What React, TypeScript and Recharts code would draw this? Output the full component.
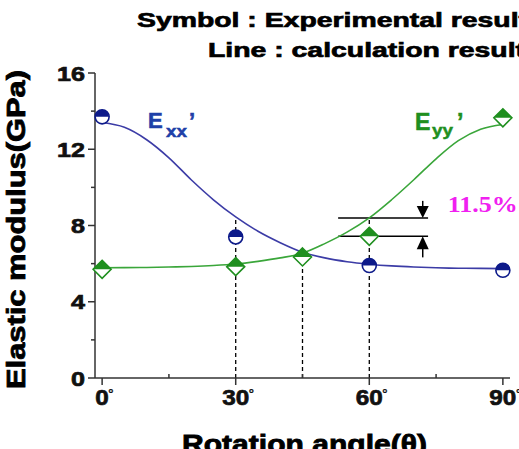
import { ComposedChart, Line, Scatter, XAxis, YAxis, ReferenceLine, ReferenceDot } from 'recharts';

// calculated curves, sampled every 5 degrees
const curveAngles = [0, 5, 10, 15, 20, 25, 30, 35, 40, 45, 50, 55, 60, 65, 70, 75, 80, 85, 90];
const exxCalc = [13.4, 13.15, 12.5, 11.55, 10.4, 9.35, 8.45, 7.7, 7.1, 6.6, 6.3, 6.1, 5.97, 5.88, 5.82, 5.78, 5.76, 5.75, 5.74];
const eyyCalc = [5.78, 5.79, 5.8, 5.82, 5.85, 5.9, 5.98, 6.12, 6.3, 6.55, 7.05, 7.65, 8.4, 9.35, 10.4, 11.5, 12.45, 13.05, 13.3];

// measured points
const exxExpAngles = [0, 30, 60, 90];
const exxExp = [13.7, 7.4, 5.9, 5.65];
const eyyExpAngles = [0, 30, 45, 60, 90];
const eyyExp = [5.7, 5.84, 6.35, 7.43, 13.65];

const xTicks = [0, 15, 30, 45, 60, 75, 90];
const xMajor = [0, 30, 60, 90];
const yTicks = [0, 2, 4, 6, 8, 10, 12, 14, 16];
const yMajor = [0, 4, 8, 12, 16];

// vertical guides drop from the curves at these angles
const dropAngles = [30, 45, 60];

// gap between calculated and measured Eyy at 60 degrees
const gapAngle = 60;
const gapSpan = [53, 73.2];
const arrowAngle = 72;

const BLUE = '#0d1a8a';
const BLUE_LINE = '#3c3ca6';
const GREEN = '#1f8f1f';
const GREEN_LINE = '#3aa63a';
const AXIS = '#333';
const FONT = '"Liberation Sans", Arial, sans-serif';

const exxLine = curveAngles.map((a, i) => ({ angle: a, value: exxCalc[i] }));
const eyyLine = curveAngles.map((a, i) => ({ angle: a, value: eyyCalc[i] }));
const exxPts = exxExpAngles.map((a, i) => ({ angle: a, value: exxExp[i] }));
const eyyPts = eyyExpAngles.map((a, i) => ({ angle: a, value: eyyExp[i] }));

const calcAt = (arr: number[], angle: number) => arr[curveAngles.indexOf(angle)];
const dropTops = [calcAt(exxCalc, 30), calcAt(eyyCalc, 45), calcAt(eyyCalc, 60)];
const gapUpper = calcAt(eyyCalc, gapAngle);
const gapLower = eyyExp[eyyExpAngles.indexOf(gapAngle)];
const gapLabel = (((gapUpper - gapLower) / gapUpper) * 100).toFixed(1) + '%';

// heavy bold text: fill plus a thin stroke of the same colour
const heavy = (color: string, w = 0.7) => ({
  fontFamily: FONT,
  fontWeight: 'bold' as const,
  fill: color,
  stroke: color,
  strokeWidth: w,
});

const HalfCircle = (props: any) => {
  const { cx, cy } = props;
  const r = 7;
  return (
    <g>
      <circle cx={cx} cy={cy} r={r} fill="#fff" stroke={BLUE} strokeWidth={1.6} />
      <path d={`M${cx - r},${cy} A${r},${r} 0 0 1 ${cx + r},${cy} Z`} fill={BLUE} />
    </g>
  );
};

const HalfDiamond = (props: any) => {
  const { cx, cy } = props;
  const s = 9;
  return (
    <g>
      <path d={`M${cx},${cy - s} L${cx + s},${cy} L${cx},${cy + s} L${cx - s},${cy} Z`} fill="#fff" stroke={GREEN} strokeWidth={1.6} />
      <path d={`M${cx - s},${cy} L${cx},${cy - s} L${cx + s},${cy} Z`} fill={GREEN} />
    </g>
  );
};

const XTick = (props: any) => {
  const { x, y, payload } = props;
  const major = xMajor.includes(payload.value);
  if (!major) {
    return <line x1={x} x2={x} y1={y} y2={y - 4} stroke={AXIS} strokeWidth={1.5} />;
  }
  const s = String(payload.value);
  const w = s.length * 13.5;
  return (
    <g>
      <line x1={x} x2={x} y1={y} y2={y + 7} stroke={AXIS} strokeWidth={1.5} />
      <text x={x} y={y + 27} textAnchor="middle" fontSize={22} {...heavy('#111')} textLength={w} lengthAdjust="spacingAndGlyphs">{s}</text>
      <text x={x + w / 2 - 0.5} y={y + 20} fontSize={13} {...heavy('#111', 0.3)}>°</text>
    </g>
  );
};

const YTick = (props: any) => {
  const { x, y, payload } = props;
  const major = yMajor.includes(payload.value);
  const s = String(payload.value);
  return (
    <g>
      <line x1={x - (major ? 7 : 4)} x2={x} y1={y} y2={y} stroke={AXIS} strokeWidth={1.5} />
      {major && (
        <text x={x - 10} y={y + 7.5} textAnchor="end" fontSize={21} {...heavy('#111')} textLength={s.length * 14} lengthAdjust="spacingAndGlyphs">{s}</text>
      )}
    </g>
  );
};

const DownArrow = (props: any) => {
  const { cx, cy } = props;
  return (
    <g>
      <line x1={cx} x2={cx} y1={cy - 17} y2={cy - 8} stroke="#000" strokeWidth={1.5} />
      <path d={`M${cx - 6},${cy - 12} L${cx + 6},${cy - 12} L${cx},${cy} Z`} fill="#000" />
    </g>
  );
};

const UpArrow = (props: any) => {
  const { cx, cy } = props;
  return (
    <g>
      <line x1={cx} x2={cx} y1={cy + 21} y2={cy + 8} stroke="#000" strokeWidth={1.5} />
      <path d={`M${cx - 6},${cy + 13} L${cx + 6},${cy + 13} L${cx},${cy} Z`} fill="#000" />
    </g>
  );
};

const GapText = (props: any) => {
  const { cx, cy } = props;
  return (
    <text x={cx + 25} y={cy - 6} fontFamily='"Liberation Serif", "Times New Roman", serif' fontWeight="bold" fontSize={23} fill="#f020f0" textLength={70} lengthAdjust="spacingAndGlyphs">{gapLabel}</text>
  );
};

export default function App() {
  return (
    <div style={{ position: 'absolute', left: 0, top: 0, width: 519, height: 449, background: '#fff' }}>
      <ComposedChart width={519} height={449} margin={{ top: 73, right: 9, bottom: 0, left: 0 }}>
        <XAxis
          dataKey="angle"
          type="number"
          domain={[-1.6, 91.6]}
          ticks={xTicks}
          height={71}
          tickSize={0}
          tickMargin={0}
          tickLine={false}
          axisLine={{ stroke: AXIS, strokeWidth: 1.5 }}
          tick={<XTick />}
          interval={0}
        />
        <YAxis
          type="number"
          domain={[0, 16]}
          ticks={yTicks}
          width={95}
          tickSize={0}
          tickMargin={0}
          tickLine={false}
          axisLine={{ stroke: AXIS, strokeWidth: 1.5 }}
          tick={<YTick />}
          interval={0}
        />
        {dropAngles.map((a, i) => (
          <ReferenceLine
            key={a}
            segment={[{ x: a, y: 0 }, { x: a, y: dropTops[i] }]}
            stroke="#000"
            strokeWidth={1.3}
            strokeDasharray="4 3"
          />
        ))}
        <ReferenceLine segment={[{ x: gapSpan[0], y: gapUpper }, { x: gapSpan[1], y: gapUpper }]} stroke="#000" strokeWidth={1.5} />
        <ReferenceLine segment={[{ x: gapSpan[0], y: gapLower }, { x: gapSpan[1], y: gapLower }]} stroke="#000" strokeWidth={1.5} />
        <ReferenceDot x={arrowAngle} y={gapUpper} r={0} shape={<DownArrow />} />
        <ReferenceDot x={arrowAngle} y={gapLower} r={0} shape={<UpArrow />} />
        <ReferenceDot x={arrowAngle} y={gapUpper} r={0} shape={<GapText />} />
        <Line data={exxLine} dataKey="value" type="monotone" stroke={BLUE_LINE} strokeWidth={1.6} dot={false} isAnimationActive={false} />
        <Line data={eyyLine} dataKey="value" type="monotone" stroke={GREEN_LINE} strokeWidth={1.6} dot={false} isAnimationActive={false} />
        <Scatter data={exxPts} dataKey="value" shape={<HalfCircle />} isAnimationActive={false} />
        <Scatter data={eyyPts} dataKey="value" shape={<HalfDiamond />} isAnimationActive={false} />

        <text x={137} y={27} fontSize={21} {...heavy('#000')} textLength={391} lengthAdjust="spacingAndGlyphs">Symbol : Experimental result</text>
        <text x={208} y={57} fontSize={21} {...heavy('#000')} textLength={317} lengthAdjust="spacingAndGlyphs">Line : calculation result</text>
        <text transform="translate(25, 389) rotate(-90)" x={0} y={0} fontSize={25} {...heavy('#000', 0.8)} textLength={319} lengthAdjust="spacingAndGlyphs">Elastic modulus(GPa)</text>
        <text x={182} y={453} fontSize={25} {...heavy('#000', 0.8)} textLength={245} lengthAdjust="spacingAndGlyphs">Rotation angle(θ)</text>

        <text x={148} y={128} fontSize={22} {...heavy('#1e40a8', 0.6)}>E</text>
        <text x={166} y={137} fontSize={17} {...heavy('#1e40a8', 0.5)} textLength={21} lengthAdjust="spacingAndGlyphs">xx</text>
        <text x={189} y={128} fontSize={22} {...heavy('#1e40a8', 0.6)}>’</text>
        <text x={415} y={130} fontSize={23} {...heavy(GREEN, 0.6)}>E</text>
        <text x={432} y={136} fontSize={17} {...heavy(GREEN, 0.5)} textLength={21} lengthAdjust="spacingAndGlyphs">yy</text>
        <text x={457} y={130} fontSize={23} {...heavy(GREEN, 0.6)}>’</text>
      </ComposedChart>
    </div>
  );
}
